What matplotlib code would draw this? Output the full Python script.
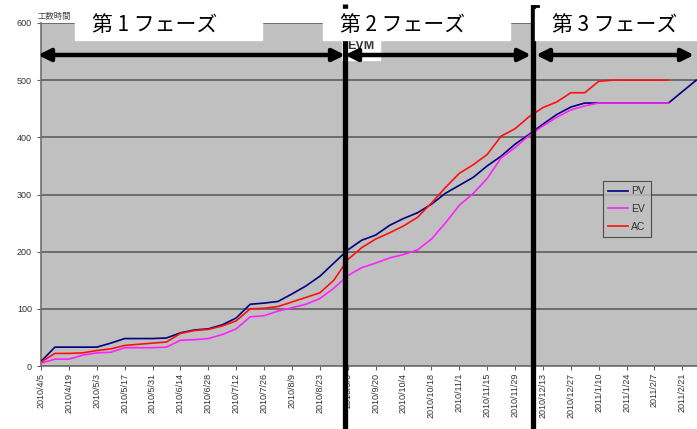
import matplotlib
matplotlib.use("Agg")
import matplotlib.pyplot as plt
import pandas as pd
from matplotlib.patches import Rectangle

plt.rcParams['font.family'] = ['Liberation Sans', 'Noto Sans CJK JP', 'DejaVu Sans']

# ---- weekly EVM data (工数時間)
weeks = pd.date_range('2010-04-05', periods=48, freq='7D')

pv = [8, 33, 33, 33, 33, 40, 48, 48, 48, 49, 58, 63, 65, 72, 84, 108,
      110, 113, 126, 140, 157, 180, 203, 220, 229, 246, 258, 268, 283, 302,
      316, 330, 350, 367, 388, 405, 423, 440, 453, 460, 460, 460, 460, 460,
      460, 460, 480, 500]
ev = [5, 12, 12, 19, 23, 24, 32, 32, 32, 33, 45, 46, 48, 55, 65, 86,
      88, 96, 102, 108, 118, 136, 158, 172, 180, 189, 195, 203, 222, 250,
      281, 302, 328, 364, 382, 403, 420, 435, 448, 455, 460, 460, 460, 460,
      460, 460]
ac = [7, 22, 22, 23, 27, 30, 36, 38, 40, 42, 57, 62, 64, 70, 79, 100,
      101, 104, 112, 120, 128, 150, 186, 207, 222, 233, 245, 260, 285, 312,
      337, 352, 370, 402, 415, 436, 452, 462, 478, 478, 498, 500, 500, 500,
      500, 500]

tick_labels = ['2010/4/5', '2010/4/19', '2010/5/3', '2010/5/17', '2010/5/31',
               '2010/6/14', '2010/6/28', '2010/7/12', '2010/7/26', '2010/8/9',
               '2010/8/23', '2010/9/6', '2010/9/20', '2010/10/4',
               '2010/10/18', '2010/11/1', '2010/11/15', '2010/11/29',
               '2010/12/13', '2010/12/27', '2011/1/10', '2011/1/24',
               '2011/2/7', '2011/2/21']

phases = ['第 1 フェーズ', '第 2 フェーズ', '第 3 フェーズ']

W, H = 697, 429
fig = plt.figure(figsize=(W / 100, H / 100), dpi=100)
fig.patch.set_facecolor('white')

ax = fig.add_axes([41 / W, (H - 366) / H, (W - 41) / W, (366 - 23) / H])
ax.set_facecolor('#c0c0c0')

x = list(range(len(weeks)))
ax.plot(x[:len(pv)], pv, color='#000080', lw=1.2, label='PV', zorder=3)
ax.plot(x[:len(ev)], ev, color='#ff22ff', lw=1.2, label='EV', zorder=3)
ax.plot(x[:len(ac)], ac, color='#ff1010', lw=1.2, label='AC', zorder=3)

ax.set_xlim(0, 47.05)
ax.set_ylim(0, 600)
ax.set_yticks(range(0, 601, 100))
ax.set_xticks(range(0, 48, 2))
ax.set_xticklabels(tick_labels, rotation=90, fontsize=6.5, color='#333333')
ax.tick_params(axis='y', labelsize=6.5, labelcolor='#333333', length=3,
               color='#606060')
ax.tick_params(axis='x', length=3, color='#606060', pad=2)
ax.grid(axis='y', color='#666666', lw=1.3, zorder=1)
ax.set_axisbelow(True)
for s in ['top', 'right']:
    ax.spines[s].set_visible(False)
for s in ['left', 'bottom']:
    ax.spines[s].set_color('#707070')
    ax.spines[s].set_linewidth(1.2)

leg = ax.legend(loc='upper left', bbox_to_anchor=((603 - 41) / (W - 41),
                (366 - 181) / 343), fontsize=7.5, frameon=True, fancybox=False,
                handlelength=1.9, borderpad=0.5, labelspacing=0.75,
                handletextpad=0.3, borderaxespad=0)
leg.get_frame().set_facecolor('#c0c0c0')
leg.get_frame().set_edgecolor('#303030')
leg.get_frame().set_linewidth(0.8)
for t in leg.get_texts():
    t.set_color('#333333')

# ---- overlay in pixel coordinates for the phase markings
ov = fig.add_axes([0, 0, 1, 1], zorder=5)
ov.set_xlim(0, W)
ov.set_ylim(H, 0)
ov.axis('off')
ov.patch.set_alpha(0)

ov.text(38, 17, '工数時間', fontsize=6, color='#444444',
        family=['Noto Sans CJK JP', 'DejaVu Sans'], va='center', ha='left')

# chart title, mostly hidden
ov.add_patch(Rectangle((342, 38), 38, 22, color='white', zorder=1))
ov.text(361, 46, 'EVM', fontsize=9, fontweight='bold', color='#333333',
        ha='center', va='center', zorder=2)

# phase boundaries
ov.plot([345, 345], [4, H], color='black', lw=3.8, solid_capstyle='butt',
        zorder=3)
ov.plot([533, 533], [5, H], color='black', lw=3.8, solid_capstyle='butt',
        zorder=3)
ov.plot([532, 538], [6, 6], color='black', lw=2, zorder=3)

# phase arrows
for x0, x1 in [(38, 345), (345, 531), (536, 694)]:
    ov.annotate('', xy=(x1, 55), xytext=(x0, 55),
                arrowprops=dict(arrowstyle='<|-|>', color='black', lw=3.2,
                                mutation_scale=18, shrinkA=0, shrinkB=0),
                zorder=4)

# phase labels on white boxes
boxes = [(75, 262), (323, 510), (535, 700)]
for (bx0, bx1), name in zip(boxes, phases):
    ov.add_patch(Rectangle((bx0, 9), bx1 - bx0, 31, color='white', zorder=6))
    ov.text(bx0 + 17, 25, name, fontsize=15, color='black',
            family=['Noto Sans CJK JP', 'DejaVu Sans'], va='center',
            ha='left', zorder=7)

fig.savefig('out.png', dpi=100)
